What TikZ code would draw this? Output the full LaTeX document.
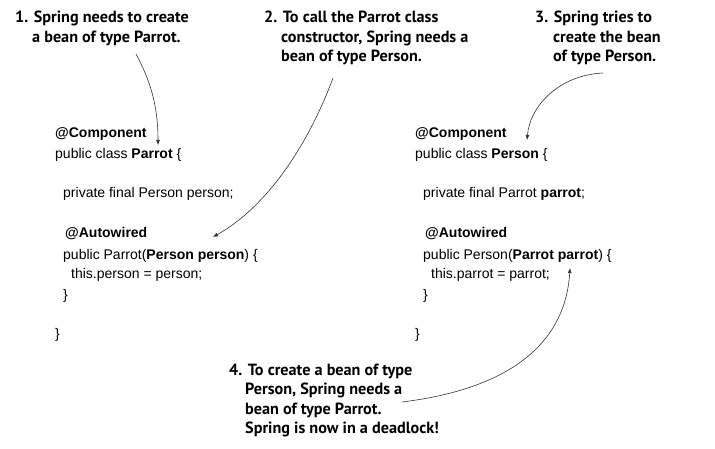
\documentclass[tikz,border=0pt]{standalone}
\usepackage{fontspec}
\setmainfont{Liberation Sans}
\newfontfamily\annfont{PT Sans}
\usetikzlibrary{arrows.meta}
\begin{document}
\begin{tikzpicture}[x=1pt,y=-1pt,
  codeline/.style={anchor=base west,inner sep=0pt,font=\fontsize{14}{20}\selectfont},
  annline/.style={anchor=base west,inner sep=0pt,font=\annfont\bfseries\fontsize{16.2}{19.5}\selectfont},
  conn/.style={draw=black!80,line width=0.6pt,-{Latex[length=5pt,width=4pt]}}]
\useasboundingbox (0,0) rectangle (715,449);
% annotation 1
\node[annline] (a1l1) at (15,23) {1. Spring needs to create};
\node[annline] (a1l2) at (32,42.5) {a bean of type Parrot.};
% annotation 2
\node[annline] (a2l1) at (264,23) {2. To call the Parrot class};
\node[annline] (a2l2) at (281,42.5) {constructor, Spring needs a};
\node[annline] (a2l3) at (281,62) {bean of type Person.};
% annotation 3
\node[annline] (a3l1) at (535,23) {3. Spring tries to};
\node[annline] (a3l2) at (553,42.5) {create the bean};
\node[annline] (a3l3) at (553,62) {of type Person.};
% annotation 4
\node[annline] (a4l1) at (229,375) {4. To create a bean of type};
\node[annline] (a4l2) at (245,394.5) {Person, Spring needs a};
\node[annline] (a4l3) at (245,414) {bean of type Parrot.};
\node[annline] (a4l4) at (245,433.5) {Spring is now in a deadlock!};
% left code
\node[codeline] (lc1) at (55,138) {\textbf{@Component}};
\node[codeline] (lc2) at (55,159) {public class \textbf{Parrot} \{};
\node[codeline] (lc3) at (63,198) {private final Person person;};
\node[codeline] (lc4) at (65,238) {\textbf{@Autowired}};
\node[codeline] (lc5) at (63,259) {public Parrot(\textbf{Person person}) \{};
\node[codeline] (lc6) at (71,279) {this.person = person;};
\node[codeline] (lc7) at (63,299) {\}};
\node[codeline] (lc8) at (55,338) {\}};
% right code
\node[codeline] (rc1) at (415,138) {\textbf{@Component}};
\node[codeline] (rc2) at (415,159) {public class \textbf{Person} \{};
\node[codeline] (rc3) at (423,198) {private final Parrot \textbf{parrot};};
\node[codeline] (rc4) at (425,238) {\textbf{@Autowired}};
\node[codeline] (rc5) at (423,259) {public Person(\textbf{Parrot parrot}) \{};
\node[codeline] (rc6) at (431,279) {this.parrot = parrot;};
\node[codeline] (rc7) at (423,299) {\}};
\node[codeline] (rc8) at (415,338) {\}};
% arrow endpoints
\coordinate (s1) at (136,54);
\coordinate (e1) at (158,145);
\coordinate (s2) at (333,78);
\coordinate (e2) at (213,237);
\coordinate (s3) at (603,73);
\coordinate (e3) at (527,140);
\coordinate (s4) at (402,402);
\coordinate (e4) at (570,268);
\draw[conn] (s1) .. controls (150,80) and (158,105) .. (e1);
\draw[conn] (s2) .. controls (310,140) and (270,205) .. (e2);
\draw[conn] (s3) .. controls (560,75) and (530,105) .. (e3);
\draw[conn] (s4) .. controls (500,390) and (565,350) .. (e4);
\end{tikzpicture}
\end{document}
